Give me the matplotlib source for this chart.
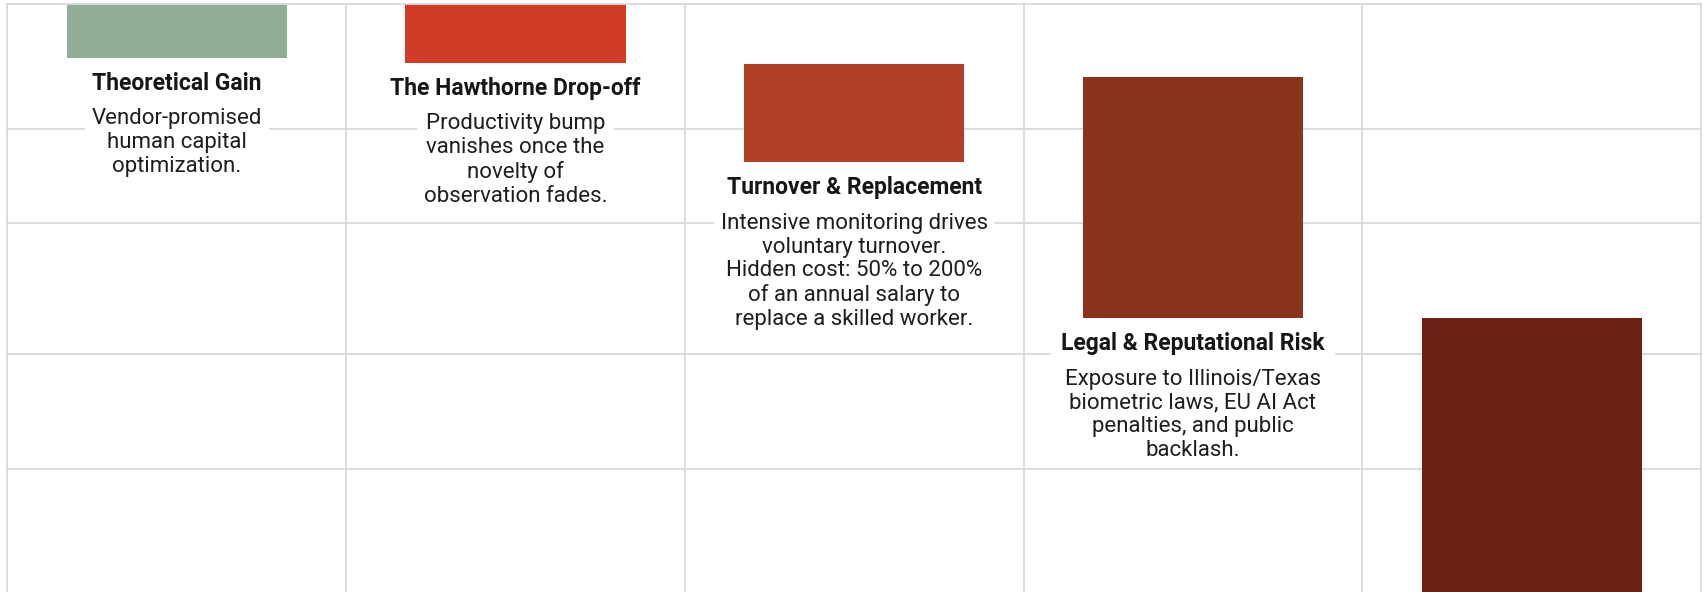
import numpy as np
import matplotlib
matplotlib.use('Agg')
import matplotlib.pyplot as plt

plt.rcParams['font.family'] = ['Roboto', 'DejaVu Sans']

# waterfall steps (value scale 0-100, top of the view cut at 100)
steps = ['Theoretical Gain', 'The Hawthorne Drop-off', 'Turnover & Replacement',
         'Legal & Reputational Risk', 'Net Outcome']
bar_top = [100, 100, 89.8, 87.6, 46.6]
bar_bottom = [90.9, 90.0, 73.1, 46.6, 0]
grid_levels = [78.7, 62.8, 40.5, 20.9]

titles = ['Theoretical Gain', 'The Hawthorne Drop-off', 'Turnover & Replacement',
          'Legal & Reputational Risk', '']
descriptions = [
    'Vendor-promised\nhuman capital\noptimization.',
    'Productivity bump\nvanishes once the\nnovelty of\nobservation fades.',
    'Intensive monitoring drives\nvoluntary turnover.\nHidden cost: 50% to 200%\nof an annual salary to\nreplace a skilled worker.',
    'Exposure to Illinois/Texas\nbiometric laws, EU AI Act\npenalties, and public\nbacklash.',
    '',
]
colors = ['#8fae95', '#d03c25', '#b23f27', '#8b321c', '#6c2313']

GRID = '#d9d9d9'

fig = plt.figure(figsize=(17.03, 5.92), dpi=100)
ax = fig.add_axes([7.3 / 1703, 0, (1701 - 7.3) / 1703, 1 - 4 / 592])

x = np.arange(len(steps))
heights = np.array(bar_top) - np.array(bar_bottom)
ax.bar(x, heights, bottom=bar_bottom, width=0.65, color=colors, zorder=2)

ax.set_xlim(-0.5, len(steps) - 0.5)
ax.set_ylim(0, 100)

ax.set_yticks(grid_levels)
ax.set_xticks(x[:-1] + 0.5)
ax.grid(True, color=GRID, linewidth=1.3, zorder=0)
ax.set_axisbelow(True)
ax.tick_params(length=0, labelbottom=False, labelleft=False)
for side in ['top', 'left', 'right']:
    ax.spines[side].set_color(GRID)
    ax.spines[side].set_linewidth(1.3)
ax.spines['bottom'].set_visible(False)

title_box = dict(boxstyle='square,pad=0.45', facecolor='white', edgecolor='none')
desc_box = dict(boxstyle='square,pad=0.3', facecolor='white', edgecolor='none')
for i in range(len(steps)):
    if titles[i]:
        ax.annotate(titles[i], xy=(i, bar_bottom[i]), xytext=(0, -18.5),
                    textcoords='offset points', ha='center', va='center',
                    fontsize=16.5, fontweight='bold', color='#161616',
                    bbox=title_box, zorder=4)
    if descriptions[i]:
        ax.annotate(descriptions[i], xy=(i, bar_bottom[i]), xytext=(0, -36.5),
                    textcoords='offset points', ha='center', va='top',
                    fontsize=16, color='#1e1e1e', linespacing=1.17,
                    bbox=desc_box, zorder=4)

plt.savefig('out.png', dpi=100)
